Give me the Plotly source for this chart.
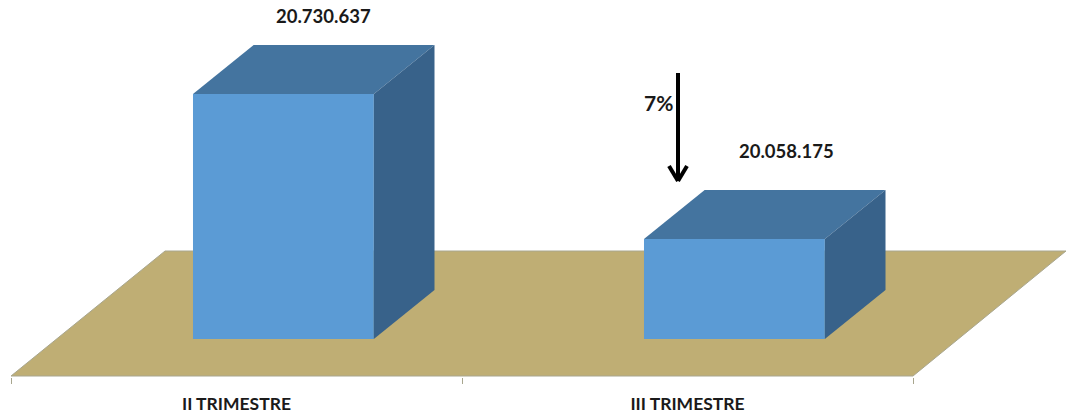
import plotly.graph_objects as go

# Quarterly totals
categories = ["II TRIMESTRE", "III TRIMESTRE"]
values = [20730637, 20058175]
value_labels = ["20.730.637", "20.058.175"]
change_label = "7%"

# Value axis window and box geometry
AXIS_FLOOR = 19594400
AXIS_CEIL = 21166600
Y_BOTTOM = 19418200
PX_PER_VALUE = 377 / (AXIS_CEIL - Y_BOTTOM)
X_MIN, X_MAX = -0.5244, 1.8392
BAR_WIDTH = 0.401
BOX_SHIFT = 0.104
DEPTH_X = 0.1345
DEPTH_Y = 49 / PX_PER_VALUE

FRONT = "#5b9bd5"
TOP = "#44749f"
SIDE = "#38628a"
FLOOR = "#bfae74"
FLOOR_EDGE = "#a8a68e"
FONT = "Lato"

fig = go.Figure()

# Front faces come from the bar trace, resting on the axis floor
fig.add_bar(
    x=[i + BOX_SHIFT for i in range(len(categories))],
    y=[v - AXIS_FLOOR for v in values],
    base=AXIS_FLOOR,
    width=BAR_WIDTH,
    marker=dict(color=FRONT, line=dict(width=0)),
    hoverinfo="skip",
)

# Top and side faces are offset from each bar's value by the box depth
for i, v in enumerate(values):
    left, right = i + BOX_SHIFT - BAR_WIDTH / 2, i + BOX_SHIFT + BAR_WIDTH / 2
    fig.add_scatter(
        x=[left, right, right + DEPTH_X, left + DEPTH_X, left],
        y=[v, v, v + DEPTH_Y, v + DEPTH_Y, v],
        mode="lines", fill="toself", fillcolor=TOP,
        line=dict(width=0), hoverinfo="skip",
    )
    fig.add_scatter(
        x=[right, right + DEPTH_X, right + DEPTH_X, right, right],
        y=[AXIS_FLOOR, AXIS_FLOOR + DEPTH_Y, v + DEPTH_Y, v, AXIS_FLOOR],
        mode="lines", fill="toself", fillcolor=SIDE,
        line=dict(width=0), hoverinfo="skip",
    )

# Chart floor, a parallelogram under all the boxes
floor_back = Y_BOTTOM + 126 / PX_PER_VALUE
floor_front = Y_BOTTOM + 1 / PX_PER_VALUE
floor_path = (
    f"M -0.5,{floor_front} L 1.5,{floor_front} "
    f"L {X_MAX},{floor_back} L -0.1585,{floor_back} Z"
)
fig.add_shape(
    type="path", path=floor_path, xref="x", yref="y", layer="below",
    fillcolor=FLOOR, line=dict(color=FLOOR_EDGE, width=1),
)

# Value labels sit above the back edge of each box
label_offsets = [(0.193, 29), (0.2195, 39)]
for i, (v, text, (dx, lift)) in enumerate(zip(values, value_labels, label_offsets)):
    fig.add_annotation(
        x=i + dx, y=v + DEPTH_Y, text=f"<b>{text}</b>",
        xref="x", yref="y", showarrow=False, yshift=lift,
        font=dict(family=FONT, size=18.5, color="#1a1a1a"),
    )

# Downward arrow showing the drop between quarters
def px_x(p):
    return p / 1066

def px_y(p):
    return 1 - p / 377

for x0, y0, x1, y1, w in [(678, 73, 678, 181, 4), (669, 166, 678, 181, 4), (687, 166, 678, 181, 4)]:
    fig.add_shape(
        type="line", xref="paper", yref="paper",
        x0=px_x(x0), y0=px_y(y0), x1=px_x(x1), y1=px_y(y1),
        line=dict(color="#000000", width=w),
    )
fig.add_annotation(
    xref="paper", yref="paper", x=px_x(658), y=px_y(102), text=f"<b>{change_label}</b>",
    xanchor="center", yanchor="middle",
    showarrow=False, font=dict(family=FONT, size=21, color="#1a1a1a"),
)

fig.update_layout(
    width=1066, height=414,
    margin=dict(l=0, r=0, t=0, b=37),
    paper_bgcolor="#ffffff", plot_bgcolor="#ffffff",
    showlegend=False,
    xaxis=dict(
        range=[X_MIN, X_MAX],
        tickmode="array", tickvals=list(range(len(categories))),
        ticktext=[f"<b>{c}</b>" for c in categories],
        ticks="", showgrid=False, zeroline=False, showline=False,
        ticklabelstandoff=14,
        tickfont=dict(family=FONT, size=17.5, color="#1a1a1a"),
        minor=dict(tickmode="array", tickvals=[-0.5, 0.5, 1.5], ticks="outside",
                   ticklen=6, tickcolor=FLOOR_EDGE, showgrid=False),
    ),
    yaxis=dict(range=[Y_BOTTOM, AXIS_CEIL], visible=False, fixedrange=True),
)

fig.write_html("out.html", config=dict(displayModeBar=False))
